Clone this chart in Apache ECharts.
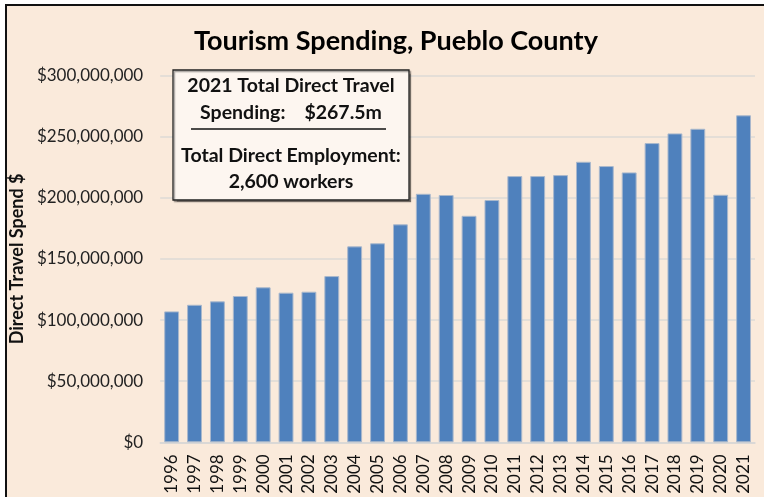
<!DOCTYPE html>
<html>
<head>
<meta charset="utf-8">
<script src="https://cdn.jsdelivr.net/npm/echarts@6/dist/echarts.min.js"></script>
<style>html,body{margin:0;padding:0;background:#fff;}#c{width:764px;height:497px;}</style>
</head>
<body>
<div id="c"></div>
<script>
const years = ['1996','1997','1998','1999','2000','2001','2002','2003','2004','2005','2006','2007','2008','2009','2010','2011','2012','2013','2014','2015','2016','2017','2018','2019','2020','2021'];
const spending = [107.1e6,112.5e6,115.3e6,119.7e6,126.8e6,122.4e6,123.2e6,136.0e6,160.3e6,162.8e6,178.3e6,203.3e6,202.3e6,185.3e6,198.2e6,217.8e6,217.8e6,218.6e6,229.5e6,226.0e6,220.8e6,244.8e6,252.7e6,256.5e6,202.5e6,267.5e6];
const titleText = 'Tourism Spending, Pueblo County';
const yAxisName = 'Direct Travel Spend $';
const boxLines = ['2021 Total Direct Travel', 'Spending:    $267.5m', 'Total Direct Employment:', '2,600 workers'];

const FONT = 'Lato, "Open Sans", sans-serif';
const chart = echarts.init(document.getElementById('c'));
function fmt(v){ return '$' + v.toLocaleString('en-US'); }
function boxText(t, y){
  return { type: 'text', z: 101, style: { text: t, x: 291, y: y, textAlign: 'center', textVerticalAlign: 'middle', fontFamily: FONT, fontWeight: 'bold', fontSize: 19.5, fill: '#111' } };
}
chart.setOption({
  backgroundColor: '#ffffff',
  animation: false,
  title: {
    text: titleText, left: 391, top: 23, textAlign: 'center',
    textStyle: { fontFamily: FONT, fontWeight: 'bold', fontSize: 27, color: '#000' }
  },
  graphic: [
    { type: 'rect', z: -10, shape: { x: 6, y: 5, width: 800, height: 600 },
      style: { fill: '#FAEADB', stroke: '#111', lineWidth: 2 } },
    { type: 'rect', z: 100, shape: { x: 173, y: 70, width: 236, height: 130 },
      style: { fill: '#FDF6F0', stroke: '#222', lineWidth: 1.3, shadowColor: 'rgba(0,0,0,0.35)', shadowOffsetX: 1.5, shadowOffsetY: 1.5, shadowBlur: 1 } },
    boxText(boxLines[0], 86),
    boxText(boxLines[1], 113),
    { type: 'line', z: 101, shape: { x1: 191, y1: 129, x2: 386, y2: 129 }, style: { stroke: '#111', lineWidth: 1.5 } },
    boxText(boxLines[2], 156),
    boxText(boxLines[3], 182)
  ],
  grid: { left: 154, right: 9, top: 75.6, bottom: 54.7, containLabel: false },
  xAxis: {
    type: 'category', data: years,
    axisLine: { lineStyle: { color: '#D6D6D6', width: 1.5 } },
    axisTick: { show: false },
    axisLabel: { rotate: 90, interval: 0, margin: 12, fontFamily: FONT, fontSize: 17, color: '#111' }
  },
  yAxis: {
    type: 'value', min: 0, max: 300000000, interval: 50000000,
    name: yAxisName, nameLocation: 'middle', nameGap: 121, nameRotate: 90,
    nameTextStyle: { fontFamily: FONT, fontWeight: 'bold', fontSize: 18, color: '#111' },
    axisLine: { show: false }, axisTick: { show: false },
    axisLabel: { formatter: fmt, margin: 17, fontFamily: FONT, fontSize: 17, color: '#222' },
    splitLine: { lineStyle: { color: '#DCDAD6', width: 1.5 } }
  },
  series: [{
    type: 'bar', data: spending, barCategoryGap: '35%',
    itemStyle: { color: '#4F81BD', borderColor: '#A9B8CC', borderWidth: 1 }
  }]
});
</script>
</body>
</html>
